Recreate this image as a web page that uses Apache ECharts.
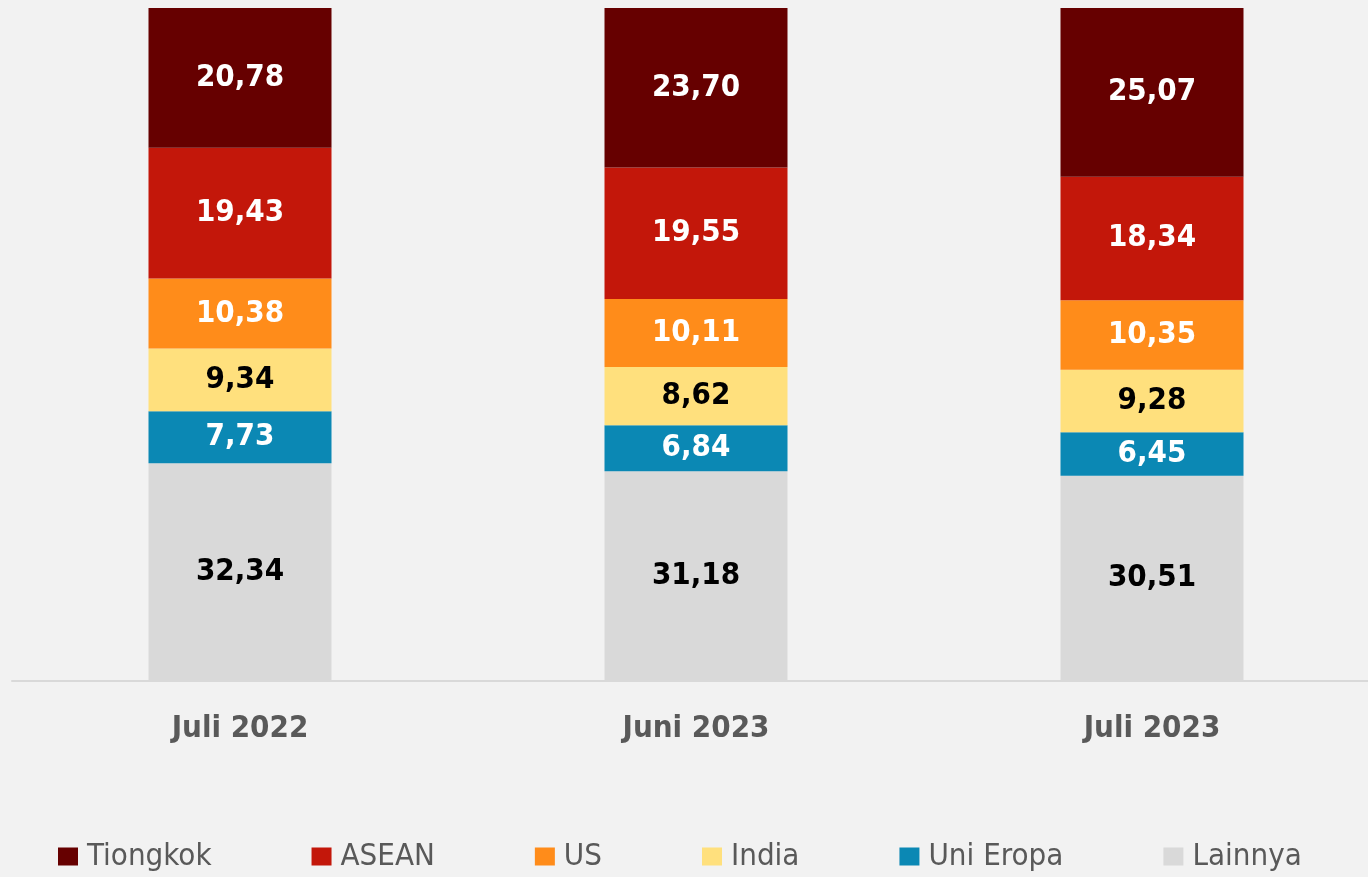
<!DOCTYPE html>
<html>
<head>
    <meta charset="utf-8">
    <script src="https://cdn.jsdelivr.net/npm/echarts@6/dist/echarts.min.js"></script>
    <style>
        html, body {margin: 0; padding: 0; background: #F2F2F2;}
    </style>
</head>
<body>
<div id="main" style="width: 1368px; height: 877px"></div>
<script type="text/javascript">
    // data (persen)
    var categories = ['Juli 2022', 'Juni 2023', 'Juli 2023'];
    var lainnya = [32.34, 31.18, 30.51];
    var uniEropa = [7.73, 6.84, 6.45];
    var india = [9.34, 8.62, 9.28];
    var us = [10.38, 10.11, 10.35];
    var asean = [19.43, 19.55, 18.34];
    var tiongkok = [20.78, 23.70, 25.07];

    var font = '"Liberation Sans Narrow", "Arial Narrow", "DejaVu Sans Condensed", sans-serif';

    function fmt(p) {
        return p.value.toFixed(2).replace('.', ',');
    }

    function mkSeries(name, data, color, labelColor) {
        return {
            name: name, type: 'bar', stack: 'total',
            barWidth: 183,
            data: data,
            itemStyle: {color: color},
            label: {
                show: true, position: 'inside',
                formatter: fmt,
                color: labelColor,
                fontFamily: font, fontWeight: 'bold', fontSize: 31
            }
        };
    }

    var myChart = echarts.init(document.getElementById('main'));
    var option = {
        backgroundColor: '#F2F2F2',
        animation: false,
        grid: {left: 12, right: -12, top: 8, bottom: 196, outerBoundsMode: 'none', containLabel: false},
        legend: {
            data: ['Tiongkok', 'ASEAN', 'US', 'India', 'Uni Eropa', 'Lainnya'],
            left: 58, top: 841, padding: 0,
            itemWidth: 20, itemHeight: 18, itemGap: 100,
            icon: 'rect',
            textStyle: {fontFamily: font, fontSize: 31, color: '#595959', padding: [0, 0, 0, 4]}
        },
        xAxis: {
            type: 'category',
            data: categories,
            axisLine: {lineStyle: {color: '#D9D9D9', width: 2}},
            axisTick: {show: false},
            axisLabel: {
                margin: 32,
                fontFamily: font, fontWeight: 'bold', fontSize: 31, color: '#595959'
            }
        },
        yAxis: {
            type: 'value', min: 0, max: 100,
            show: false,
            splitLine: {show: false}
        },
        series: [
            mkSeries('Lainnya', lainnya, '#D9D9D9', '#000000'),
            mkSeries('Uni Eropa', uniEropa, '#0B88B4', '#FFFFFF'),
            mkSeries('India', india, '#FFE07D', '#000000'),
            mkSeries('US', us, '#FF8C1A', '#FFFFFF'),
            mkSeries('ASEAN', asean, '#C3170A', '#FFFFFF'),
            mkSeries('Tiongkok', tiongkok, '#660000', '#FFFFFF')
        ]
    };
    myChart.setOption(option);
</script>
</body>
</html>
